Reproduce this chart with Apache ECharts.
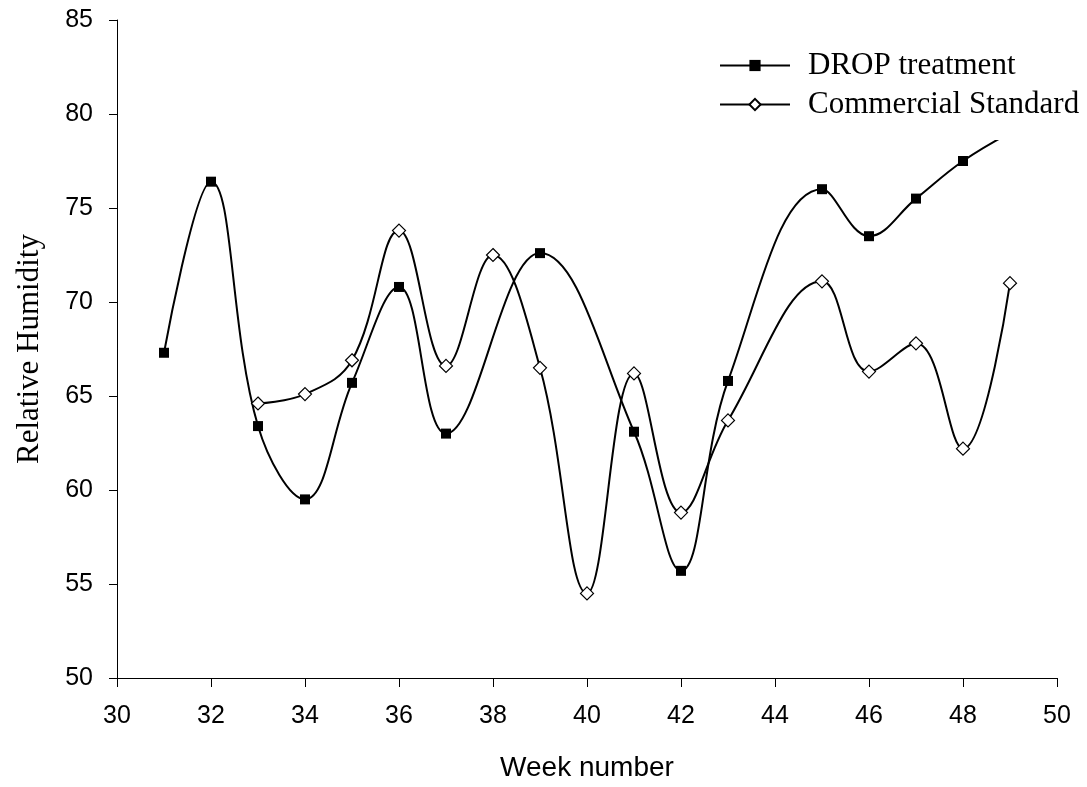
<!DOCTYPE html>
<html>
<head>
<meta charset="utf-8">
<script src="https://cdn.jsdelivr.net/npm/echarts@6/dist/echarts.min.js"></script>
<style>html,body{margin:0;padding:0;background:#fff;}#c{width:1087px;height:787px;}</style>
</head>
<body>
<div id="c"></div>
<script>
var dropWeeks = [31, 32, 33, 34, 35, 36, 37, 39, 41, 42, 43, 45, 46, 47, 48, 49];
var dropValues = [67.3, 76.4, 63.4, 59.5, 65.7, 70.8, 63.0, 72.6, 63.1, 55.7, 65.8, 76.0, 73.5, 75.5, 77.5, 79.0];
var stdWeeks = [33, 34, 35, 36, 37, 38, 39, 40, 41, 42, 43, 45, 46, 47, 48, 49];
var stdValues = [64.6, 65.1, 66.9, 73.8, 66.6, 72.5, 66.5, 54.5, 66.2, 58.8, 63.7, 71.1, 66.3, 67.8, 62.2, 71.0];
var seriesNames = ['DROP treatment', 'Commercial Standard'];
var xTitle = 'Week number';
var yTitle = 'Relative Humidity';

function pairs(xs, ys) { return xs.map(function (x, i) { return [x, ys[i]]; }); }

var chart = echarts.init(document.getElementById('c'), null, {renderer: 'canvas'});
chart.setOption({
  animation: false,
  backgroundColor: '#fff',
  grid: {left: 117, right: 30, top: 20, bottom: 107, containLabel: false},
  legend: {
    show: true,
    orient: 'vertical',
    left: 714,
    top: 28,
    padding: [18, 10, 16, 5],
    backgroundColor: '#fff',
    itemWidth: 70,
    itemHeight: 14,
    itemGap: 0,
    textStyle: {fontFamily: 'Liberation Serif', fontSize: 31, color: '#000', lineHeight: 39, padding: [0, 0, 0, 13]},
    data: [
      {name: seriesNames[0]},
      {name: seriesNames[1]}
    ]
  },
  xAxis: {
    type: 'value', min: 30, max: 50, interval: 2,
    name: xTitle, nameLocation: 'middle', nameGap: 76,
    nameTextStyle: {fontFamily: 'Liberation Sans', fontSize: 28, color: '#000'},
    axisLine: {show: true, onZero: false, lineStyle: {color: '#000', width: 1}},
    axisTick: {show: true, inside: false, length: 9, lineStyle: {color: '#000'}},
    axisLabel: {fontFamily: 'Liberation Sans', fontSize: 25, color: '#000', margin: 26},
    splitLine: {show: false}
  },
  yAxis: {
    type: 'value', min: 50, max: 85, interval: 5,
    name: yTitle, nameLocation: 'middle', nameGap: 72, nameRotate: 90,
    nameTextStyle: {fontFamily: 'Liberation Serif', fontSize: 31, color: '#000'},
    axisLine: {show: true, onZero: false, lineStyle: {color: '#000', width: 1}},
    axisTick: {show: true, inside: false, length: 8, lineStyle: {color: '#000'}},
    axisLabel: {fontFamily: 'Liberation Sans', fontSize: 25, color: '#000', margin: 24},
    splitLine: {show: false}
  },
  series: [
    {
      name: seriesNames[0], type: 'line', smooth: 0.4,
      data: pairs(dropWeeks, dropValues),
      symbol: 'rect', symbolSize: 10, showAllSymbol: true,
      itemStyle: {color: '#000', borderColor: '#000', borderWidth: 0},
      lineStyle: {color: '#000', width: 2},
      z: 2
    },
    {
      name: seriesNames[1], type: 'line', smooth: 0.4,
      data: pairs(stdWeeks, stdValues),
      symbol: 'diamond', symbolSize: 13, showAllSymbol: true,
      itemStyle: {color: '#fff', borderColor: '#000', borderWidth: 1.2},
      lineStyle: {color: '#000', width: 2},
      z: 3
    }
  ]
});
</script>
</body>
</html>
